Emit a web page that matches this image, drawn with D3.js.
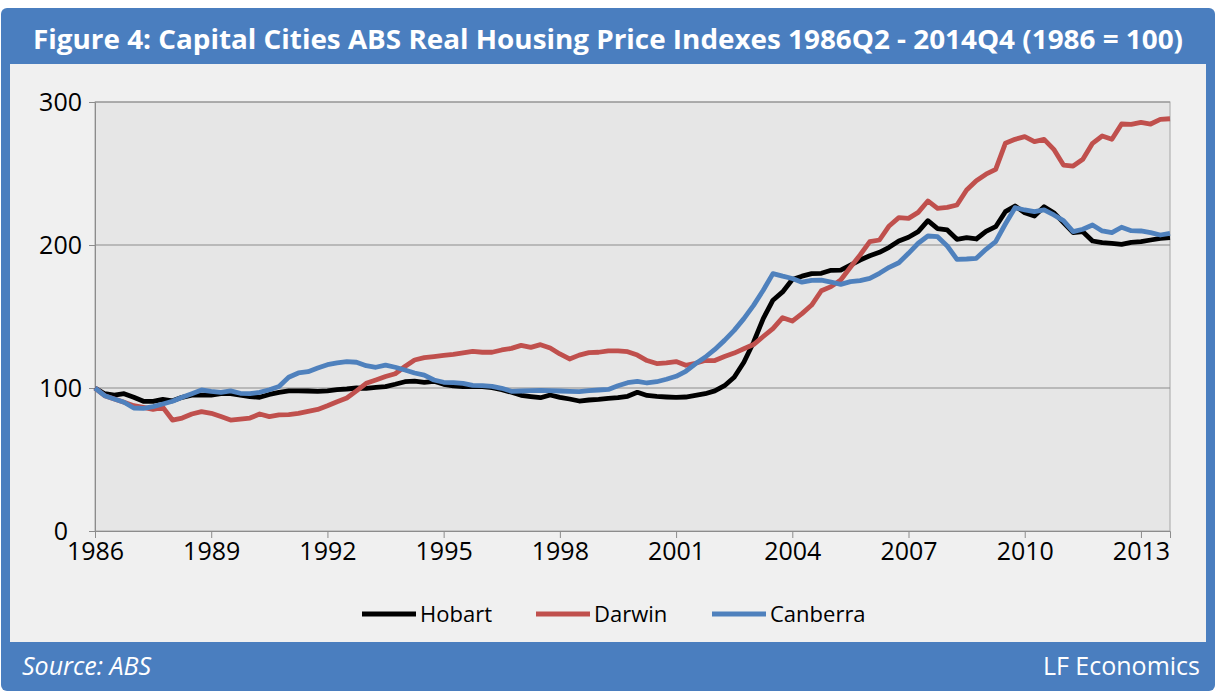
<!DOCTYPE html>
<html>
<head>
<meta charset="utf-8">
<script src="https://cdn.jsdelivr.net/npm/d3@7"></script>
<style>
  body { margin: 0; background: #fff; }
  svg { display: block; font-family: "Open Sans", "Liberation Sans", sans-serif; }
</style>
</head>
<body>
<svg id="chart" width="1216" height="691"></svg>
<script>
// quarterly index values, 1986 = 100
var hobart = [100,96,95,96,93.5,90.7,90.7,92,91,93.5,95,95,95,96,96,95,94,93.5,95.5,97,
  98,98,97.9,97.6,98,98.8,99.3,100,99.8,100.5,101,102.6,104.4,104.8,104,104.7,102.6,101.5,101,101,
  101,100.2,98.8,97,94.9,94,93.2,95.1,93.5,92.3,90.9,91.6,92,92.8,93.2,94.2,97,94.8,94.1,93.7,
  93.4,93.7,94.8,96,98,101.6,107.5,118,132,148.5,161.4,167.2,175.9,178.2,180,180.2,182.3,182.5,186,189.5,
  192.5,194.9,198.4,202.8,205.4,209.3,217,211.4,210.5,204,205.1,204.2,209.5,212.8,223.3,227.3,222.6,220.3,226.8,222.6,
  215.6,208.6,209.3,202.8,201.6,201.2,200.5,201.9,202.3,203.5,204.7,205.1];
var darwin = [100,94.6,92.3,90,87.6,86.5,85,86.5,77.6,79,81.8,83.5,82.3,80,77.6,78.3,79,81.8,80,81.2,
  81.4,82.3,83.7,85,87.6,90.4,93,98,103.3,105.6,108,110,115,119.6,121.2,122,122.8,123.5,124.5,125.6,
  125,125,126.6,127.7,129.8,128.4,130.3,128,123.8,120.3,123,124.7,125,126,126,125.4,123,119.2,117.1,117.6,
  118.5,115.9,117.3,119.2,119.2,122,124.4,127.4,130.4,136,141.5,149.2,146.8,152,158,168,170.9,175.5,184.4,193,
  202.3,203.5,213.3,219.1,218.6,222.8,230.8,225.6,226.3,228,238.5,245,249.5,252.9,271.1,273.9,275.8,272.3,273.9,266.9,
  255.9,255.2,259.9,271.1,276.2,273.9,284.6,284.4,285.8,284.6,287.9,288.3];
var canberra = [100,94.6,92.3,90,86,85.8,87,88.8,90.7,93.5,96,98.6,97.7,97,98,96.3,96,97,98.8,101,
  107.5,110.5,111.4,114,116.3,117.5,118.4,118,115.6,114.5,116,114.5,112.6,110.5,109,105.6,104,103.8,103.3,101.9,
  101.6,101.2,99.8,97.7,97.9,98.1,98.4,98.1,97.9,97.7,97.4,98.1,98.6,99,101.6,103.7,104.6,103.5,104.4,106.1,
  108.2,111.7,116.9,121.5,127,133.3,140.3,148.5,157.8,168.4,180,178.2,176.6,174,175.3,175.5,174.1,172.5,174.4,175.1,
  176.7,180.2,184.4,187.6,194.2,201.2,206.3,205.8,199.3,190,190.2,190.7,197,202.3,214.7,226.1,224.5,223.3,224.5,221,
  217,209.3,211,214,209.8,208.6,212.4,210,209.8,208.6,207,208.2];

var yearLabels = ["1986","1989","1992","1995","1998","2001","2004","2007","2010","2013"];
var yTicks = [0, 100, 200, 300];
var seriesNames = ["Hobart", "Darwin", "Canberra"];
var seriesColors = ["#000000", "#c0504d", "#4f81bd"];

var svg = d3.select("#chart");
var W = 1216, H = 691;
var blue = "#4a7ebf";

// frame
svg.append("rect").attr("x", 1).attr("y", 8).attr("width", W - 2).attr("height", H - 8)
  .attr("rx", 6).attr("fill", blue);
svg.append("rect").attr("x", 10).attr("y", 64).attr("width", W - 20).attr("height", 578)
  .attr("fill", "#f0f0f0");

svg.append("text")
  .attr("x", W / 2).attr("y", 49)
  .attr("text-anchor", "middle")
  .attr("fill", "#fff")
  .attr("font-size", 26).attr("font-weight", "bold")
  .attr("textLength", 1150).attr("lengthAdjust", "spacingAndGlyphs")
  .text("Figure 4: Capital Cities ABS Real Housing Price Indexes 1986Q2 - 2014Q4 (1986 = 100)");

svg.append("text").attr("x", 22).attr("y", 675)
  .attr("fill", "#fff").attr("font-size", 25).attr("font-style", "italic")
  .text("Source: ABS");
svg.append("text").attr("x", 1200).attr("y", 675).attr("text-anchor", "end")
  .attr("fill", "#fff").attr("font-size", 25)
  .text("LF Economics");

// plot area
var pLeft = 95, pRight = 1170, pTop = 102, pBottom = 531;
var x = d3.scaleLinear().domain([0, hobart.length - 1]).range([pLeft, pRight]);
var y = d3.scaleLinear().domain([0, 300]).range([pBottom, pTop]);

svg.append("rect").attr("x", pLeft).attr("y", pTop)
  .attr("width", pRight - pLeft).attr("height", pBottom - pTop)
  .attr("fill", "#e6e6e6").attr("stroke", "#a6a6a6");

svg.append("g").selectAll("line").data(yTicks.slice(1)).join("line")
  .attr("x1", pLeft).attr("x2", pRight)
  .attr("y1", function(d) { return y(d); }).attr("y2", function(d) { return y(d); })
  .attr("stroke", "#8c8c8c").attr("stroke-width", 1);

// y axis
var yAxis = svg.append("g").attr("transform", "translate(" + pLeft + ",0)")
  .call(d3.axisLeft(y).tickValues(yTicks).tickSize(6).tickPadding(7));
yAxis.select(".domain").attr("stroke", "#8c8c8c");
yAxis.selectAll(".tick line").attr("stroke", "#8c8c8c");
yAxis.selectAll("text").attr("font-size", 25).attr("fill", "#000")
  .attr("font-family", "Open Sans, sans-serif");
// the zero label sits a little further left in the original
yAxis.selectAll(".tick").filter(function(d) { return d === 0; })
  .select("text").attr("x", -27);

// x axis, a label every 12 quarters
var xAxis = svg.append("g").attr("transform", "translate(0," + pBottom + ")")
  .call(d3.axisBottom(x).tickValues(yearLabels.map(function(d, i) { return i * 12; }))
    .tickFormat(function(d) { return yearLabels[d / 12]; })
    .tickSize(7).tickPadding(4));
xAxis.select(".domain").attr("stroke", "#8c8c8c");
xAxis.selectAll(".tick line").attr("stroke", "#8c8c8c");
xAxis.selectAll("text").attr("font-size", 25).attr("fill", "#000")
  .attr("font-family", "Open Sans, sans-serif");

var line = d3.line()
  .x(function(d, i) { return x(i); })
  .y(function(d) { return y(d); });

[hobart, darwin, canberra].forEach(function(s, k) {
  svg.append("path").datum(s)
    .attr("d", line)
    .attr("fill", "none")
    .attr("stroke", seriesColors[k])
    .attr("stroke-width", 4.8)
    .attr("stroke-linejoin", "round");
});

// legend
var legendX = [362, 536, 712];
var lg = svg.append("g");
seriesNames.forEach(function(n, k) {
  lg.append("line").attr("x1", legendX[k]).attr("x2", legendX[k] + 54)
    .attr("y1", 614).attr("y2", 614)
    .attr("stroke", seriesColors[k]).attr("stroke-width", 4.8);
  lg.append("text").attr("x", legendX[k] + 58).attr("y", 622)
    .attr("font-size", 22).attr("fill", "#000").text(n);
});
</script>
</body>
</html>
